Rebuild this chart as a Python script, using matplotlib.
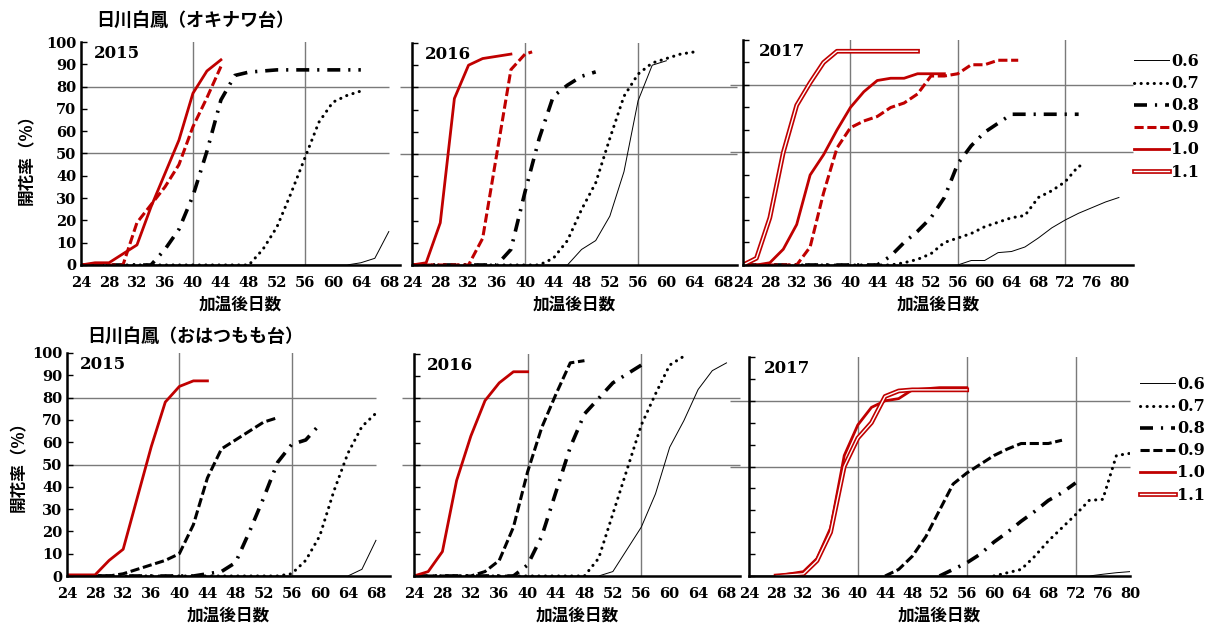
import matplotlib
matplotlib.use('Agg')
import matplotlib.pyplot as plt
import matplotlib.patheffects as pe
from matplotlib.lines import Line2D

plt.rcParams['font.family'] = ['Noto Sans CJK JP', 'DejaVu Sans']

# --- data: days after heating (x) and flowering rate % (y), one dict per panel ---
# オキナワ台
oki2015 = {
    '0.6': ([24, 62, 64, 66, 68], [0, 0, 1, 3, 15]),
    '0.7': ([24, 48, 50, 52, 54, 56, 58, 60, 62, 64], [0, 0, 7, 17, 32, 48, 64, 73, 76, 78]),
    '0.8': ([24, 34, 36, 38, 40, 42, 44, 46, 48, 52, 64], [0, 0, 7, 16, 31, 51, 74, 85, 86.5, 87.5, 87.5]),
    '0.9': ([24, 30, 32, 34, 36, 38, 40, 42, 44], [0, 0, 19, 27, 35, 45, 62, 75, 89]),
    '1.0': ([24, 26, 28, 30, 32, 34, 36, 38, 40, 42, 44], [0, 1, 1, 5, 9, 26, 41, 56, 77, 87, 92]),
}
oki2016 = {
    '0.6': ([24, 46, 48, 50, 52, 54, 56, 58, 60], [0, 0, 7, 11, 22, 42, 74, 90, 92]),
    '0.7': ([24, 42, 44, 46, 48, 50, 52, 54, 56, 58, 60, 62, 64], [0, 0, 3, 11, 25, 37, 57, 76, 86, 91, 93, 95, 96]),
    '0.8': ([24, 36, 38, 40, 42, 44, 46, 48, 50], [0, 0, 7, 33, 57, 76, 81, 85, 87]),
    '0.9': ([24, 32, 34, 36, 38, 40, 41], [0, 0, 12, 50, 88, 95, 96]),
    '1.0': ([24, 26, 28, 30, 32, 34, 36, 38], [0, 1, 19, 75, 90, 93, 94, 95]),
}
oki2017 = {
    '0.6': ([24, 56, 58, 60, 62, 64, 66, 68, 70, 72, 74, 76, 78, 80],
            [0, 0, 2, 2, 5.5, 6, 8, 12, 16.5, 20, 23, 25.5, 28, 30]),
    '0.7': ([24, 46, 48, 50, 52, 54, 56, 58, 60, 62, 64, 66, 68, 70, 72, 74, 75],
            [0, 0, 1, 2.5, 5, 10, 12, 14, 17, 19, 21, 22, 30, 33, 37, 44, 44]),
    '0.8': ([24, 44, 46, 48, 50, 52, 54, 56, 58, 60, 62, 64, 66, 74],
            [0, 0, 4, 10, 15, 21, 30, 45, 53, 59, 63, 67, 67, 67]),
    '0.9': ([24, 32, 34, 36, 38, 40, 42, 44, 46, 48, 50, 52, 54, 56, 58, 60, 62, 65],
            [0, 0, 8, 32, 52, 61, 64, 66, 70, 72, 76, 84, 84, 85, 89, 89, 91, 91]),
    '1.0': ([24, 26, 28, 30, 32, 34, 36, 38, 40, 42, 44, 46, 48, 50, 52, 54],
            [0, 0, 1, 7, 18, 40, 49, 60, 70, 77, 82, 83, 83, 85, 85, 85]),
    '1.1': ([24, 26, 28, 30, 32, 34, 36, 38, 50], [0, 3, 21, 50, 71, 81, 90, 95, 95]),
}
# おはつもも台
oha2015 = {
    '0.6': ([24, 64, 66, 68], [0, 0, 3, 16]),
    '0.7': ([24, 54, 56, 58, 60, 62, 64, 66, 68], [0, 0, 1, 7, 18, 38, 55, 67, 73]),
    '0.8': ([24, 42, 44, 46, 48, 50, 52, 54, 56, 58, 60], [0, 0, 1, 2, 6, 20, 35, 51, 59, 61, 68]),
    '0.9': ([24, 30, 32, 34, 36, 38, 40, 42, 44, 46, 48, 50, 52, 54],
            [0, 0, 1, 3, 5, 7, 10, 23, 44, 57, 61, 65, 69, 71]),
    '1.0': ([24, 26, 28, 30, 32, 34, 36, 38, 40, 42, 44], [0.5, 0.5, 0.5, 7, 12, 35, 58, 78, 85, 87.5, 87.5]),
}
oha2016 = {
    '0.6': ([24, 50, 52, 54, 56, 58, 60, 62, 64, 66, 68], [0, 0, 2, 12, 22, 37, 58, 70, 84, 92.5, 96]),
    '0.7': ([24, 48, 50, 52, 54, 56, 58, 60, 62], [0, 0, 8, 28, 48, 68, 82, 95, 99]),
    '0.8': ([24, 38, 40, 42, 44, 46, 48, 50, 52, 54, 56], [0, 0, 5, 18, 38, 58, 73, 80, 87, 91, 95]),
    '0.9': ([24, 32, 34, 36, 38, 40, 42, 44, 46, 48], [0, 0, 2, 7, 22, 47, 67, 82, 96, 97]),
    '1.0': ([24, 26, 28, 30, 32, 34, 36, 38, 40], [0, 2, 11, 43, 63, 79, 87, 92, 92]),
}
oha2017 = {
    '0.6': ([24, 74, 76, 78, 80], [0, 0, 0.8, 1.5, 2]),
    '0.7': ([60, 62, 64, 66, 68, 70, 72, 74, 76, 78, 80], [0, 1.5, 3, 9, 16, 22, 28, 34.5, 35, 55, 56]),
    '0.8': ([52, 54, 56, 58, 60, 62, 64, 66, 68, 70, 72], [0, 3, 6, 10, 15.5, 20, 25, 29.5, 34.5, 38, 42.5]),
    '0.9': ([44, 46, 48, 50, 52, 54, 56, 58, 60, 62, 64, 66, 68, 70],
            [0, 3, 9, 18, 30, 42, 47, 51, 55, 58, 60.5, 60.5, 60.5, 62]),
    '1.0': ([28, 30, 32, 34, 36, 38, 40, 42, 44, 46, 48, 50, 52, 54, 56],
            [0, 1, 2, 8, 22, 55, 69, 77, 80, 81, 85, 85.5, 86, 86, 86]),
    '1.1': ([28, 30, 32, 34, 36, 38, 40, 42, 44, 46, 48, 50, 52, 54, 56],
            [0, 0.5, 1, 7, 20, 50, 63, 70, 82, 84.5, 85, 85, 85, 85, 85]),
}

labels = ['0.6', '0.7', '0.8', '0.9', '1.0', '1.1']
titles = ['日川白鳳（オキナワ台）', '日川白鳳（おはつもも台）']
years = ['2015', '2016', '2017']

RED = '#c00000'
GRID = '#7a7a7a'
NUM = ['DejaVu Serif']


def style(lab, row):
    if lab == '0.6':
        return dict(color='black', lw=0.7)
    if lab == '0.7':
        return dict(color='black', lw=2.2, linestyle=(0, (0.05, 2.1)), dash_capstyle='round')
    if lab == '0.8':
        return dict(color='black', lw=2.6, linestyle=(0, (3.6, 2.2, 0.6, 2.2)))
    if lab == '0.9':
        return dict(color=RED if row == 0 else 'black', lw=2.2, linestyle=(0, (3.0, 1.2)))
    if lab == '1.0':
        return dict(color=RED, lw=2.0)
    return dict(color='white', lw=1.0,
                path_effects=[pe.Stroke(linewidth=3.4, foreground=RED), pe.Normal()])


W, H = 1205, 635
fig = plt.figure(figsize=(W / 100, H / 100), dpi=100)

# panel boxes in pixels: left, right, top, bottom, xmax, hline start
boxes = [
    [(81, 400, 42, 265, 69.6, 24), (412, 737, 43, 265, 70, 22.3), (743, 1133, 40, 265, 82.1, 22)],
    [(67, 390, 353, 576, 70, 24), (414, 740, 354, 576, 69.9, 22.3), (749, 1130, 357, 576, 80, 21.2)],
]
panels = [[oki2015, oki2016, oki2017], [oha2015, oha2016, oha2017]]

for r in range(2):
    for c in range(3):
        l, rr, t, b, xmax, h0 = boxes[r][c]
        ax = fig.add_axes([l / W, 1 - b / H, (rr - l) / W, (b - t) / H])
        ax.set_xlim(24, xmax)
        ax.set_ylim(0, 100)
        for s in ['top', 'right']:
            ax.spines[s].set_visible(False)
        ax.spines['left'].set_linewidth(1.8)
        ax.spines['bottom'].set_linewidth(1.8)
        ax.spines['left'].set_zorder(5)
        ax.spines['bottom'].set_zorder(5)

        xend = 80 if c == 2 else 68
        vl = [40, 56, 72] if c == 2 else [40, 56]
        for v in vl:
            ax.axvline(v, color=GRID, lw=1, zorder=1)
        ax.hlines([50, 80], h0, xend if c == 0 else xmax, color=GRID, lw=1, zorder=1, clip_on=False)

        for lab in labels:
            if lab in panels[r][c]:
                d, v = panels[r][c][lab]
                ax.plot(d, v, zorder=3, **style(lab, r))

        ax.set_xticks(range(24, xend + 1, 4))
        ax.set_yticks(range(0, 101, 10))
        ax.tick_params(axis='x', length=0, pad=8)
        ax.tick_params(axis='y', direction='in', length=4, width=1)
        for tl in ax.get_xticklabels() + ax.get_yticklabels():
            tl.set_fontfamily(NUM)
            tl.set_fontweight('bold')
            tl.set_fontsize(10.5)
        if c > 0:
            ax.set_yticklabels([])
        ax.text(0.04, 0.985, years[c], transform=ax.transAxes, va='top', ha='left',
                fontsize=12, fontfamily=NUM, fontweight='bold')
        ax.set_xlabel('加温後日数', fontsize=12, fontweight='bold', labelpad=4)

fig.text(195 / W, 1 - 20 / H, titles[0], fontsize=13, fontweight='bold', ha='center', va='center')
fig.text(195 / W, 1 - 336 / H, titles[1], fontsize=13, fontweight='bold', ha='center', va='center')
fig.text(27 / W, 1 - 155 / H, '開花率（%）', rotation=90, fontsize=12, fontweight='bold',
         ha='center', va='center')
fig.text(19 / W, 1 - 462 / H, '開花率（%）', rotation=90, fontsize=12, fontweight='bold',
         ha='center', va='center')

# legends
for r, (x0, y0) in enumerate([(1126, 45), (1132, 368)]):
    hs = [Line2D([], [], **style(lab, r)) for lab in labels]
    fig.legend(hs, labels, loc='upper left', bbox_to_anchor=(x0 / W, 1 - y0 / H),
               frameon=False, handlelength=2.2, handletextpad=0.12, labelspacing=0.32,
               borderpad=0, prop={'family': NUM, 'size': 11.5, 'weight': 'bold'})

fig.savefig('out.png', dpi=100)
